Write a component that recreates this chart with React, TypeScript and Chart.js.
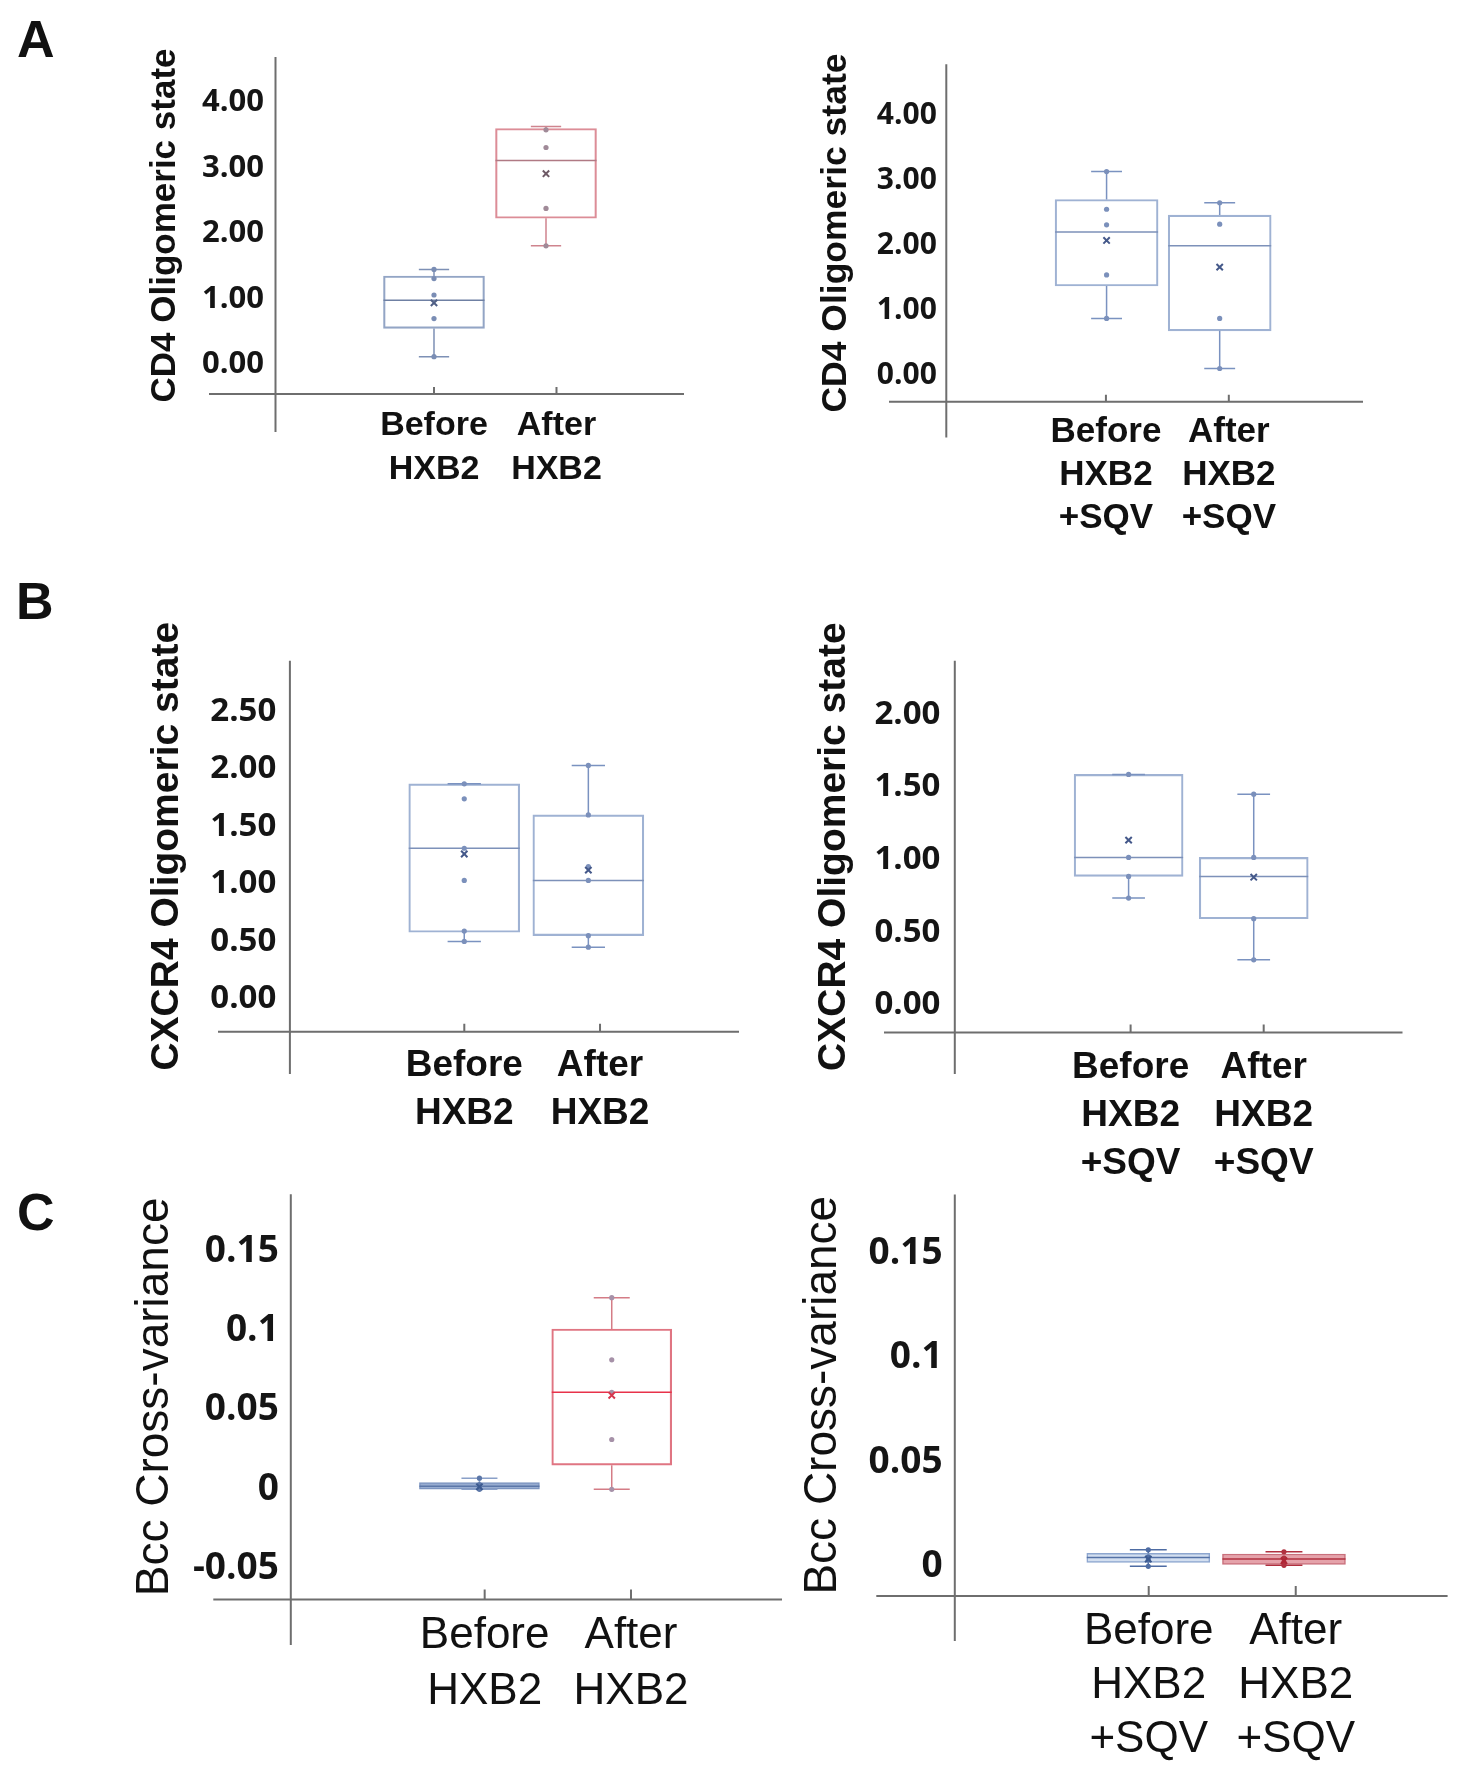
import React, { useEffect, useRef } from "react";
import { Chart, registerables } from "chart.js";

Chart.register(...registerables);

// ---------------- DATA ----------------
const GROUP_X = [1, 2];
const LABELS_HXB2 = [["Before", "HXB2"], ["After", "HXB2"]];
const LABELS_SQV = [["Before", "HXB2", "+SQV"], ["After", "HXB2", "+SQV"]];

const CD4_TICKS = [0, 1, 2, 3, 4];
const CD4_TICK_LABELS = ["0.00", "1.00", "2.00", "3.00", "4.00"];
const CXCR4_TICKS_1 = [0, 0.5, 1, 1.5, 2, 2.5];
const CXCR4_TICK_LABELS_1 = ["0.00", "0.50", "1.00", "1.50", "2.00", "2.50"];
const CXCR4_TICKS_2 = [0, 0.5, 1, 1.5, 2];
const CXCR4_TICK_LABELS_2 = ["0.00", "0.50", "1.00", "1.50", "2.00"];
const BCC_TICKS_1 = [-0.05, 0, 0.05, 0.1, 0.15];
const BCC_TICK_LABELS_1 = ["-0.05", "0", "0.05", "0.1", "0.15"];
const BCC_TICKS_2 = [0, 0.05, 0.1, 0.15];
const BCC_TICK_LABELS_2 = ["0", "0.05", "0.1", "0.15"];

// A (left): CD4, HXB2  [Before, After]
const A1_MIN = [0.12, 1.81];
const A1_Q1 = [0.55, 2.23];
const A1_MEDIAN = [0.98, 3.11];
const A1_Q3 = [1.35, 3.6];
const A1_MAX = [1.45, 3.63];
const A1_MEAN = [0.94, 2.91];
const A1_PTS_BEFORE = [1.45, 1.31, 1.06, 0.7, 0.12];
const A1_PTS_AFTER = [3.58, 3.31, 2.38, 1.81];

// A (right): CD4, HXB2 + SQV
const A2_MIN = [0.87, 0.1];
const A2_Q1 = [1.37, 0.68];
const A2_MEDIAN = [2.2, 1.99];
const A2_Q3 = [2.7, 2.46];
const A2_MAX = [3.13, 2.65];
const A2_MEAN = [2.07, 1.66];
const A2_PTS_BEFORE = [3.13, 2.55, 2.31, 1.54, 0.87];
const A2_PTS_AFTER = [2.65, 2.32, 0.87, 0.1];

// B (left): CXCR4, HXB2
const B1_MIN = [0.5, 0.45];
const B1_Q1 = [0.58, 0.55];
const B1_MEDIAN = [1.31, 1.03];
const B1_Q3 = [1.87, 1.6];
const B1_MAX = [1.87, 2.03];
const B1_MEAN = [1.26, 1.12];
const B1_PTS_BEFORE = [1.87, 1.74, 1.31, 1.03, 0.59, 0.5];
const B1_PTS_AFTER = [2.03, 1.6, 1.15, 1.03, 0.55, 0.45];

// B (right): CXCR4, HXB2 + SQV
const B2_MIN = [0.735, 0.31];
const B2_Q1 = [0.884, 0.593];
const B2_MEDIAN = [1.015, 0.884];
const B2_Q3 = [1.586, 1.015];
const B2_MAX = [1.586, 1.45];
const B2_MEAN = [1.134, 0.879];
const B2_PTS_BEFORE = [1.586, 1.015, 0.884, 0.735];
const B2_PTS_AFTER = [1.45, 1.015, 0.593, 0.31];

// C (left): Bcc cross-variance, HXB2
const C1_MIN = [0.0, 0.0];
const C1_Q1 = [0.0001, 0.0152];
const C1_MEDIAN = [0.002, 0.0611];
const C1_Q3 = [0.0042, 0.101];
const C1_MAX = [0.007, 0.1207];
const C1_MEAN = [0.0016, 0.0592];
const C1_PTS_BEFORE = [0.007, 0.003, 0.001, 0.0];
const C1_PTS_AFTER = [0.1207, 0.0816, 0.0611, 0.0314, 0.0];

// C (right): Bcc cross-variance, HXB2 + SQV
const C2_MIN = [0.0, 0.0005];
const C2_Q1 = [0.0019, 0.0009];
const C2_MEDIAN = [0.0043, 0.0035];
const C2_Q3 = [0.0063, 0.0059];
const C2_MAX = [0.0079, 0.007];
const C2_MEAN = [0.0035, 0.0027];
const C2_PTS_BEFORE = [0.0079, 0.0045, 0.003, 0.0];
const C2_PTS_AFTER = [0.007, 0.004, 0.002, 0.0005];

// ---------------- STYLES ----------------
const SANS = "'Liberation Sans', Arial, sans-serif";
const TICKFONT = "'Open Sans', Lato, sans-serif";

const BLUE_STYLE = {
  fill: ["rgba(255,255,255,0)", "rgba(255,255,255,0)"],
  border: ["#9fb2d3", "#9fb2d3"],
  median: ["#7d91b9", "#7d91b9"],
  whisker: ["#7a92c0", "#7a92c0"],
  point: ["#7b90bb", "#7b90bb"],
  mean: ["#45598a", "#45598a"],
};
const A1_STYLE = {
  fill: ["rgba(255,255,255,0)", "rgba(255,255,255,0)"],
  border: ["#93a5c5", "#dc8d97"],
  median: ["#6f80a3", "#b07a84"],
  whisker: ["#7d90b5", "#cf848e"],
  point: ["#7a8db4", "#a08a98"],
  mean: ["#4f5f85", "#6e5a66"],
};
const C1_STYLE = {
  fill: ["#97acd0", "rgba(255,255,255,0)"],
  border: ["#7d95c0", "#e07582"],
  median: ["#5c77a8", "#e8324a"],
  whisker: ["#8aa0c8", "#d47c86"],
  point: ["#5c77a8", "#a691a8"],
  mean: ["#3c5a90", "#d6364c"],
};
const C2_STYLE = {
  fill: ["#d3dff0", "#e5a2aa"],
  border: ["#8da6cf", "#c9707c"],
  median: ["#5472a6", "#b0303f"],
  whisker: ["#4e6ca3", "#b0303f"],
  point: ["#4e6ca3", "#b0303f"],
  mean: ["#3c5a90", "#b02535"],
};

// ---------------- PANELS ----------------
const PANELS: any[] = [
  {
    canvas: { x: 0, y: 0, w: 800, h: 560 },
    area: { L: 275.5, T: 57, R: 684, B: 394 },
    ext: { left: 66.5, below: 38, tick: 7 },
    yMin: -0.45, yMax: 4.69,
    xTick: [-0.294, 3.041], xBox: [-0.415, 3.232], boxWidth: 101,
    yTicks: CD4_TICKS, yTickLabels: CD4_TICK_LABELS,
    labels: LABELS_HXB2,
    title: "CD4 Oligomeric state", titleSize: 35, titleWeight: "bold", titleX: 165,
    tickSize: 31, yPad: 11.5,
    xSize: 34, xWeight: "bold", xLH: 44, xPad: 10,
    stats: { min: A1_MIN, q1: A1_Q1, median: A1_MEDIAN, q3: A1_Q3, max: A1_MAX, mean: A1_MEAN, points: [A1_PTS_BEFORE, A1_PTS_AFTER] },
    style: A1_STYLE,
  },
  {
    canvas: { x: 780, y: 0, w: 687, h: 560 },
    area: { L: 946.3, T: 64.3, R: 1363, B: 401.8 },
    ext: { left: 57.3, below: 35.7, tick: 7 },
    yMin: -0.412, yMax: 4.78,
    xTick: [-0.299, 3.092], xBox: [-0.417, 3.267], boxWidth: 103,
    yTicks: CD4_TICKS, yTickLabels: CD4_TICK_LABELS,
    labels: LABELS_SQV,
    title: "CD4 Oligomeric state", titleSize: 35.5, titleWeight: "bold", titleX: 836.7,
    tickSize: 30, yPad: 9.5,
    xSize: 35, xWeight: "bold", xLH: 43, xPad: 8.7,
    stats: { min: A2_MIN, q1: A2_Q1, median: A2_MEDIAN, q3: A2_Q3, max: A2_MAX, mean: A2_MEAN, points: [A2_PTS_BEFORE, A2_PTS_AFTER] },
    style: BLUE_STYLE,
  },
  {
    canvas: { x: 0, y: 560, w: 800, h: 640 },
    area: { L: 289.9, T: 660.8, R: 739, B: 1031.7 },
    ext: { left: 71.9, below: 42.3, tick: 8 },
    yMin: -0.285, yMax: 2.94,
    xTick: [-0.285, 3.024], xBox: [-0.405, 3.214], boxWidth: 111,
    yTicks: CXCR4_TICKS_1, yTickLabels: CXCR4_TICK_LABELS_1,
    labels: LABELS_HXB2,
    title: "CXCR4 Oligomeric state", titleSize: 39, titleWeight: "bold", titleX: 167.2,
    tickSize: 33, yPad: 13.6,
    xSize: 37, xWeight: "bold", xLH: 47.6, xPad: 10.5,
    stats: { min: B1_MIN, q1: B1_Q1, median: B1_MEDIAN, q3: B1_Q3, max: B1_MAX, mean: B1_MEAN, points: [B1_PTS_BEFORE, B1_PTS_AFTER] },
    style: BLUE_STYLE,
  },
  {
    canvas: { x: 780, y: 560, w: 687, h: 640 },
    area: { L: 954.8, T: 660.8, R: 1402.5, B: 1032.5 },
    ext: { left: 70.8, below: 41.5, tick: 8 },
    yMin: -0.19, yMax: 2.368,
    xTick: [-0.321, 3.043], xBox: [-0.389, 3.189], boxWidth: 109,
    yTicks: CXCR4_TICKS_2, yTickLabels: CXCR4_TICK_LABELS_2,
    labels: LABELS_SQV,
    title: "CXCR4 Oligomeric state", titleSize: 39, titleWeight: "bold", titleX: 834.4,
    tickSize: 33, yPad: 14.4,
    xSize: 37, xWeight: "bold", xLH: 48, xPad: 10.8,
    stats: { min: B2_MIN, q1: B2_Q1, median: B2_MEDIAN, q3: B2_Q3, max: B2_MAX, mean: B2_MEAN, points: [B2_PTS_BEFORE, B2_PTS_AFTER] },
    style: BLUE_STYLE,
  },
  {
    canvas: { x: 0, y: 1160, w: 800, h: 606 },
    area: { L: 290.8, T: 1191, R: 782, B: 1599.5 },
    ext: { left: 77.5, below: 45.5, tick: 10 },
    yMin: -0.0694, yMax: 0.1859,
    xTick: [-0.325, 3.032], xBox: [-0.426, 3.287], boxWidth: 120,
    yTicks: BCC_TICKS_1, yTickLabels: BCC_TICK_LABELS_1,
    labels: LABELS_HXB2,
    title: "Bcc Cross-variance", titleSize: 46, titleWeight: "normal", titleX: 155,
    tickSize: 37, yPad: 12,
    xSize: 44, xWeight: "normal", xLH: 56, xPad: 7.9,
    stats: { min: C1_MIN, q1: C1_Q1, median: C1_MEDIAN, q3: C1_Q3, max: C1_MAX, mean: C1_MEAN, points: [C1_PTS_BEFORE, C1_PTS_AFTER] },
    style: C1_STYLE,
  },
  {
    canvas: { x: 780, y: 1160, w: 687, h: 606 },
    area: { L: 954.8, T: 1187, R: 1447.6, B: 1596 },
    ext: { left: 78.5, below: 45, tick: 10 },
    yMin: -0.0142, yMax: 0.1782,
    xTick: [-0.319, 3.033], xBox: [-0.426, 3.206], boxWidth: 123,
    yTicks: BCC_TICKS_2, yTickLabels: BCC_TICK_LABELS_2,
    labels: LABELS_SQV,
    title: "Bcc Cross-variance", titleSize: 46, titleWeight: "normal", titleX: 823,
    tickSize: 37, yPad: 12.2,
    xSize: 44, xWeight: "normal", xLH: 54, xPad: 8.5,
    stats: { min: C2_MIN, q1: C2_Q1, median: C2_MEDIAN, q3: C2_Q3, max: C2_MAX, mean: C2_MEAN, points: [C2_PTS_BEFORE, C2_PTS_AFTER] },
    style: C2_STYLE,
  },
];

const PANEL_LETTERS = [
  { text: "A", x: 17, y: 13 },
  { text: "B", x: 16, y: 575 },
  { text: "C", x: 17, y: 1186 },
];

// ---------------- PLUGINS ----------------
const axesPlugin = {
  id: "crossAxes",
  beforeDatasetsDraw(chart: any, _args: any, opts: any) {
    const { ctx, chartArea: ca } = chart;
    ctx.save();
    ctx.strokeStyle = opts.color;
    ctx.lineWidth = opts.width;
    ctx.beginPath();
    ctx.moveTo(ca.left, ca.top);
    ctx.lineTo(ca.left, ca.bottom + opts.below);
    ctx.moveTo(ca.left - opts.left, ca.bottom);
    ctx.lineTo(ca.right, ca.bottom);
    const xs = chart.scales.x;
    xs.ticks.forEach((_t: any, i: number) => {
      const px = xs.getPixelForTick(i);
      ctx.moveTo(px, ca.bottom);
      ctx.lineTo(px, ca.bottom - opts.tick);
    });
    ctx.stroke();
    ctx.restore();
  },
};

const boxExtrasPlugin = {
  id: "boxExtras",
  afterDatasetDraw(chart: any, args: any, opts: any) {
    if (args.index !== 0) return;
    const ctx = chart.ctx;
    const ys = chart.scales.y;
    const s = opts.stats;
    args.meta.data.forEach((bar: any, i: number) => {
      const { x, width } = bar.getProps(["x", "width"], true);
      const half = width / 2;
      const cap = (width * opts.capRatio) / 2;
      const yMin = ys.getPixelForValue(s.min[i]);
      const yMax = ys.getPixelForValue(s.max[i]);
      const yQ1 = ys.getPixelForValue(s.q1[i]);
      const yQ3 = ys.getPixelForValue(s.q3[i]);
      const yMed = ys.getPixelForValue(s.median[i]);
      ctx.save();
      ctx.lineWidth = opts.lineWidth;
      ctx.strokeStyle = opts.whisker[i];
      ctx.beginPath();
      if (yQ3 - yMax > 1) {
        ctx.moveTo(x, yQ3);
        ctx.lineTo(x, yMax);
      }
      ctx.moveTo(x - cap, yMax);
      ctx.lineTo(x + cap, yMax);
      if (yMin - yQ1 > 1) {
        ctx.moveTo(x, yQ1);
        ctx.lineTo(x, yMin);
      }
      ctx.moveTo(x - cap, yMin);
      ctx.lineTo(x + cap, yMin);
      ctx.stroke();
      ctx.strokeStyle = opts.median[i];
      ctx.beginPath();
      ctx.moveTo(x - half, yMed);
      ctx.lineTo(x + half, yMed);
      ctx.stroke();
      ctx.restore();
    });
  },
};

function buildConfig(p: any) {
  const c = p.canvas;
  const a = p.area;
  const st = p.stats;
  const boxData = GROUP_X.map((x, i) => ({ x, y: [st.q1[i], st.q3[i]] }));
  const ptsData: any[] = [];
  st.points.forEach((arr: number[], i: number) =>
    arr.forEach((v) => ptsData.push({ x: GROUP_X[i], y: v }))
  );
  const meanData = GROUP_X.map((x, i) => ({ x, y: st.mean[i] }));
  const groupIdx = (ctx: any) => (ctx.raw && ctx.raw.x === GROUP_X[1] ? 1 : 0);

  return {
    type: "bar",
    data: {
      datasets: [
        {
          type: "bar",
          data: boxData,
          xAxisID: "xb",
          yAxisID: "y",
          backgroundColor: p.style.fill,
          borderColor: p.style.border,
          borderWidth: 1.5,
          borderSkipped: false,
          barThickness: p.boxWidth,
          order: 3,
        },
        {
          type: "scatter",
          data: ptsData,
          xAxisID: "xb",
          yAxisID: "y",
          pointStyle: "circle",
          pointRadius: 2.6,
          pointBorderWidth: 0,
          pointBackgroundColor: (ctx: any) => p.style.point[groupIdx(ctx)],
          order: 2,
        },
        {
          type: "scatter",
          data: meanData,
          xAxisID: "xb",
          yAxisID: "y",
          pointStyle: "crossRot",
          pointRadius: 4.5,
          pointBorderWidth: 2,
          pointBorderColor: (ctx: any) => p.style.mean[groupIdx(ctx)],
          order: 1,
        },
      ],
    },
    plugins: [axesPlugin, boxExtrasPlugin],
    options: {
      responsive: false,
      maintainAspectRatio: false,
      animation: false,
      devicePixelRatio: 1,
      events: [],
      layout: {
        padding: { left: 0, top: a.T - c.y, right: c.x + c.w - a.R, bottom: 0 },
      },
      plugins: {
        legend: { display: false },
        tooltip: { enabled: false },
        crossAxes: { color: "#6e6e6e", width: 2, left: p.ext.left, below: p.ext.below, tick: p.ext.tick },
        boxExtras: {
          stats: st,
          whisker: p.style.whisker,
          median: p.style.median,
          capRatio: 0.3,
          lineWidth: 1.5,
        },
      },
      scales: {
        x: {
          type: "linear",
          position: "bottom",
          min: p.xTick[0],
          max: p.xTick[1],
          offset: false,
          bounds: "data",
          grid: { display: false, drawTicks: false },
          border: { display: false },
          afterBuildTicks: (s: any) => {
            s.ticks = GROUP_X.map((v) => ({ value: v }));
          },
          afterFit: (s: any) => {
            s.height = c.y + c.h - a.B;
          },
          ticks: {
            autoSkip: false,
            maxRotation: 0,
            minRotation: 0,
            padding: p.xPad,
            color: "#111111",
            font: { family: SANS, size: p.xSize, weight: p.xWeight, lineHeight: p.xLH / p.xSize },
            callback: (_v: any, i: number) => p.labels[i],
          },
        },
        xb: {
          type: "linear",
          display: false,
          position: "bottom",
          min: p.xBox[0],
          max: p.xBox[1],
          offset: false,
          bounds: "data",
        },
        y: {
          type: "linear",
          position: "left",
          min: p.yMin,
          max: p.yMax,
          bounds: "data",
          grid: { display: false, drawTicks: false },
          border: { display: false },
          afterBuildTicks: (s: any) => {
            s.ticks = p.yTicks.map((v: number) => ({ value: v }));
          },
          afterFit: (s: any) => {
            s.width = a.L - c.x;
          },
          ticks: {
            autoSkip: false,
            padding: p.yPad,
            color: "#151515",
            font: { family: TICKFONT, size: p.tickSize, weight: "bold" },
            callback: (_v: any, i: number) => p.yTickLabels[i],
          },
          title: {
            display: true,
            text: p.title,
            color: "#111111",
            font: { family: SANS, size: p.titleSize, weight: p.titleWeight, lineHeight: 1 },
            padding: { top: p.titleX - c.x - p.titleSize / 2, bottom: 0 },
          },
        },
      },
    },
  };
}

function Panel({ p }: { p: any }) {
  const ref = useRef<HTMLCanvasElement>(null);
  useEffect(() => {
    const chart = new Chart(ref.current as HTMLCanvasElement, buildConfig(p) as any);
    return () => chart.destroy();
  }, [p]);
  return (
    <canvas
      ref={ref}
      width={p.canvas.w}
      height={p.canvas.h}
      style={{
        position: "absolute",
        left: p.canvas.x,
        top: p.canvas.y,
        width: p.canvas.w,
        height: p.canvas.h,
      }}
    />
  );
}

export default function App() {
  return (
    <div
      style={{
        position: "absolute",
        left: 0,
        top: 0,
        width: 1467,
        height: 1766,
        background: "#ffffff",
        overflow: "hidden",
      }}
    >
      {PANELS.map((p, i) => (
        <Panel key={i} p={p} />
      ))}
      {PANEL_LETTERS.map((l) => (
        <div
          key={l.text}
          style={{
            position: "absolute",
            left: l.x,
            top: l.y,
            fontFamily: SANS,
            fontWeight: "bold",
            fontSize: 52,
            lineHeight: "52px",
            color: "#111111",
          }}
        >
          {l.text}
        </div>
      ))}
    </div>
  );
}
